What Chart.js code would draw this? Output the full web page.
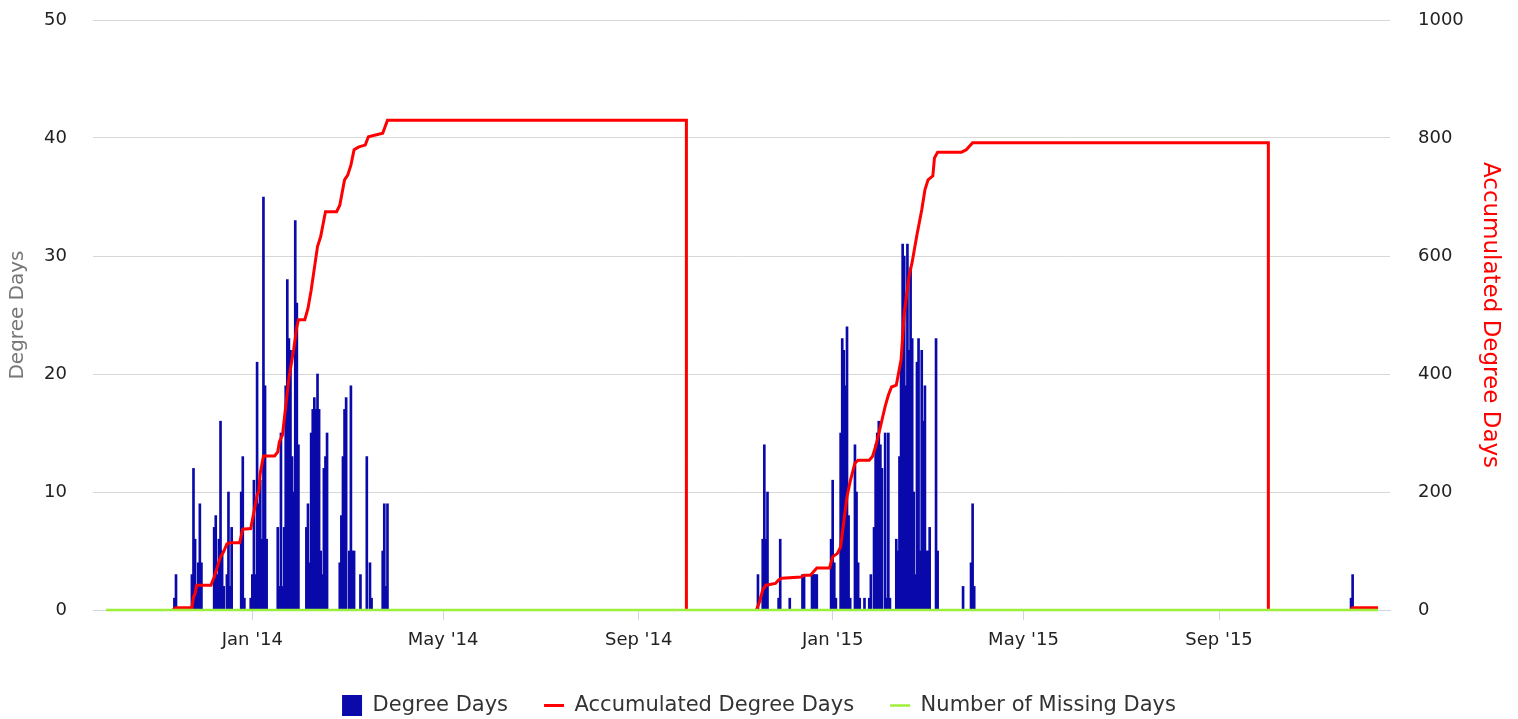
<!DOCTYPE html>
<html>
<head>
<meta charset="utf-8">
<script src="https://cdn.jsdelivr.net/npm/chart.js@4.4.0/dist/chart.umd.min.js"></script>
<style>
  html, body { margin: 0; padding: 0; background: #fff; }
  #wrap { width: 1518px; height: 719px; }
</style>
</head>
<body>
<div id="wrap"><canvas id="degreeChart" width="1518" height="719"></canvas></div>
<script>
// x values are days counted from 1 Oct 2013
const tickDays = [92, 212, 335, 457, 577, 700];
const tickLabels = ["Jan '14", "May '14", "Sep '14", "Jan '15", "May '15", "Sep '15"];

// daily degree days (days not listed are 0)
const degreeDayX = [
  43, 44,
  54, 55, 56, 57, 58, 59, 60,
  68, 69, 70, 71, 72, 73, 74, 76, 77, 78, 79,
  85, 86, 87,
  91, 92, 93, 94, 95, 96, 97, 98, 99, 100, 101,
  108, 109, 110, 111, 112, 113, 114, 115, 116, 117, 118, 119, 120, 121,
  126, 127, 128, 129, 130, 131, 132, 133, 134, 135, 136, 137, 138, 139,
  147, 148, 149, 150, 151, 153, 154, 155, 156,
  160, 164, 166, 167,
  174, 175, 176, 177,
  410, 413, 414, 415, 416,
  423, 424, 430, 438, 439, 444, 445, 446, 447,
  456, 457, 458, 459,
  462, 463, 464, 465, 466, 467, 468, 471, 472, 473, 474,
  477, 480, 481,
  483, 484, 485, 486, 487, 488, 490, 491, 492, 493,
  497, 498, 499, 500, 501, 502, 503, 504, 505, 506, 507, 508, 509, 510,
  511, 512, 513, 514, 515, 516, 517, 518, 522, 523,
  539, 544, 545, 546,
  783, 784
];
const degreeDayY = [
  1, 3,
  3, 12, 6, 2, 4, 9, 4,
  7, 8, 3, 6, 16, 5, 2, 3, 10, 2, 7,
  10, 13, 1,
  1, 3, 11, 3, 21, 9, 11, 6, 35, 19, 6,
  7, 2, 15, 2, 7, 19, 28, 23, 22, 13, 10, 33, 26, 14,
  7, 9, 4, 15, 17, 18, 17, 20, 17, 5, 3, 12, 13, 15,
  4, 8, 13, 17, 18, 5, 19, 5, 5,
  3, 13, 4, 1,
  5, 9, 2, 9,
  3, 6, 14, 6, 10,
  1, 6, 1, 3, 3, 3, 3, 3, 3,
  6, 11, 4, 1,
  15, 23, 22, 19, 24, 8, 1, 14, 10, 4, 1,
  1, 1, 3,
  7, 14, 15, 16, 14, 12, 15, 1, 15, 1,
  6, 5, 13, 21, 31, 30, 19, 31, 22, 29, 23, 10, 3, 21,
  23, 5, 22, 16, 19, 5, 5, 7, 23, 5,
  2, 4, 9, 2,
  1, 3
];

// accumulated degree days (null = no line)
const accumX = [
  42, 44, 54, 55, 56, 57, 66, 68, 70, 72, 74, 76, 78, 84, 86, 91, 92, 94, 95, 96,
  97, 99, 106, 108, 109, 111, 113, 115, 118, 120, 121, 125, 127, 129, 131, 133, 135, 138,
  145, 147, 150, 152, 154, 156, 159, 163, 165, 174, 177, 365, 365, 380,
  409, 411, 413, 415, 421, 423, 425, 437, 439, 443, 447, 455, 457, 460, 462, 464, 466,
  468, 471, 473, 480, 482, 484, 486, 488, 490, 492, 494, 497, 500, 502, 505, 507, 510,
  513, 515, 517, 520, 521, 523, 538, 541, 545, 731, 731, 760,
  783, 784, 800
];
const accumY = [
  0, 4, 4, 22, 28, 42, 42, 56, 73, 90, 99, 112, 114, 114, 137, 138, 152, 180, 195, 200,
  232, 261, 261, 268, 285, 297, 345, 393, 441, 480, 492, 492, 511, 542, 579, 616, 633, 675,
  675, 686, 729, 737, 754, 780, 785, 788, 802, 808, 830, 830, 0, null,
  0, 14, 34, 42, 45, 51, 54, 56, 59, 59, 71, 71, 90, 96, 107, 150, 192,
  218, 249, 254, 254, 260, 277, 299, 322, 345, 364, 378, 381, 424, 503, 565, 590, 636,
  678, 712, 729, 736, 766, 776, 776, 780, 792, 792, 0, null,
  0, 4, 4
];

// number of missing days (zero over the whole period)
const missingX = [0, 800];
const missingY = [0, 0];

const FONT = "'DejaVu Sans', sans-serif";

function toPoints(xs, ys) {
  return xs.map((x, i) => ({ x: x, y: ys[i] }));
}

document.addEventListener("DOMContentLoaded", () => {
  const ctx = document.getElementById("degreeChart").getContext("2d");
  new Chart(ctx, {
    type: "bar",
    data: {
      datasets: [
        {
          type: "bar",
          label: "Degree Days",
          data: toPoints(degreeDayX, degreeDayY),
          backgroundColor: "#0a0aab",
          borderWidth: 0,
          barThickness: 2,
          yAxisID: "y",
          pointStyle: "rect",
          order: 3,
        },
        {
          type: "line",
          label: "Accumulated Degree Days",
          data: toPoints(accumX, accumY),
          borderColor: "#ff0000",
          backgroundColor: "#ff0000",
          borderWidth: 3,
          pointRadius: 0,
          spanGaps: false,
          yAxisID: "y1",
          pointStyle: "line",
          order: 2,
        },
        {
          type: "line",
          label: "Number of Missing Days",
          data: toPoints(missingX, missingY),
          borderColor: "#9cef3a",
          backgroundColor: "#9cef3a",
          borderWidth: 2.5,
          pointRadius: 0,
          clip: false,
          yAxisID: "y",
          pointStyle: "line",
          order: 1,
        },
      ],
    },
    options: {
      responsive: false,
      animation: false,
      layout: { padding: { top: 20, bottom: -7, left: 0, right: 0 } },
      plugins: {
        tooltip: { enabled: false },
        legend: {
          position: "bottom",
          labels: {
            usePointStyle: true,
            pointStyleWidth: 20,
            boxHeight: 21,
            padding: 36,
            color: "#333",
            font: { size: 21, family: FONT },
            sort: (a, b) => a.datasetIndex - b.datasetIndex,
          },
        },
      },
      scales: {
        x: {
          type: "linear",
          min: -8.2,
          max: 807.5,
          offset: false,
          afterBuildTicks: (axis) => {
            axis.ticks = tickDays.map((v) => ({ value: v }));
          },
          afterFit: (axis) => {
            axis.height = 49;
          },
          ticks: {
            autoSkip: false,
            maxRotation: 0,
            padding: 10,
            color: "#222",
            font: { size: 18, family: FONT },
            callback: (value, index) => tickLabels[index],
          },
          grid: {
            offset: false,
            drawOnChartArea: false,
            drawTicks: true,
            tickLength: 10,
            color: "#ccd6eb",
          },
          border: { display: true, color: "#ccd6eb", width: 1 },
        },
        y: {
          position: "left",
          min: 0,
          max: 50,
          afterFit: (axis) => {
            axis.width = 93;
          },
          ticks: {
            stepSize: 10,
            padding: 2,
            color: "#222",
            font: { size: 18, family: FONT },
          },
          grid: { color: "#d8d8d8", drawTicks: true, tickLength: 24, tickColor: "rgba(0,0,0,0)" },
          border: { display: false },
          title: {
            display: true,
            text: "Degree Days",
            color: "#777",
            font: { size: 20, family: FONT },
            padding: { top: 6, bottom: 0 },
          },
        },
        y1: {
          position: "right",
          min: 0,
          max: 1000,
          afterFit: (axis) => {
            axis.width = 128;
          },
          ticks: {
            stepSize: 200,
            padding: 2,
            color: "#222",
            font: { size: 18, family: FONT },
            callback: (value) => String(value),
          },
          grid: { drawOnChartArea: false, drawTicks: true, tickLength: 26, tickColor: "rgba(0,0,0,0)" },
          border: { display: false },
          title: {
            display: true,
            text: "Accumulated Degree Days",
            color: "#ff0000",
            font: { size: 23, family: FONT },
            padding: { top: 14, bottom: 0 },
          },
        },
      },
    },
  });
});
</script>
</body>
</html>
